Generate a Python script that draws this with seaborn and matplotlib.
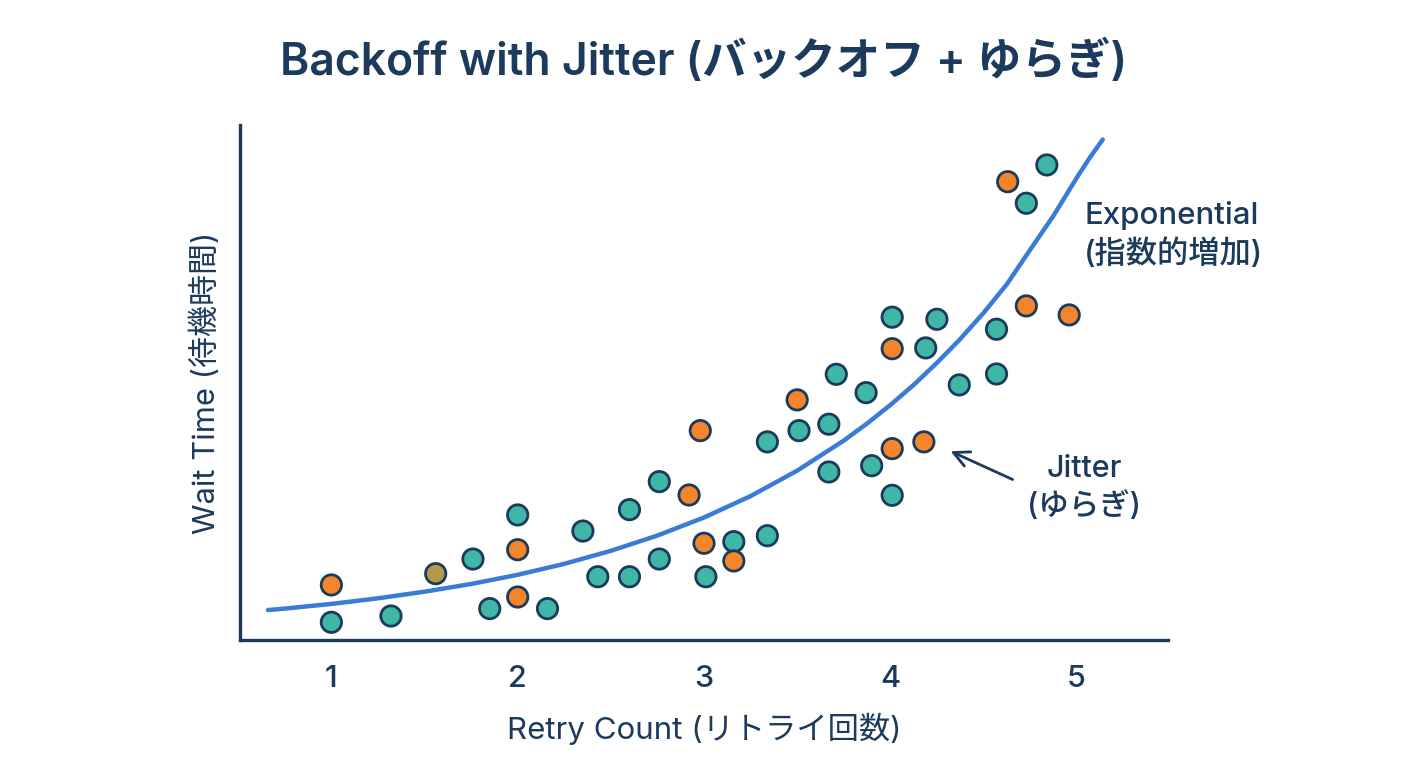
import numpy as np
import pandas as pd
import matplotlib
matplotlib.use("Agg")
import matplotlib.pyplot as plt
import seaborn as sns

# retry count / wait time (arbitrary units)
teal_x = [1.00, 1.32, 1.76, 1.85, 2.00, 2.16, 2.35, 2.43, 2.60, 2.60, 2.76, 2.76,
          3.01, 3.16, 3.34, 3.34, 3.51, 3.67, 3.71, 3.67, 3.87, 3.90, 4.01, 4.01,
          4.19, 4.25, 4.37, 4.57, 4.57, 4.73, 4.84]
teal_y = [1.10, 1.49, 5.03, 1.95, 7.77, 1.95, 6.77, 3.93, 3.93, 8.10, 5.03, 9.84,
          3.93, 6.11, 6.48, 12.31, 13.01, 13.41, 16.51, 10.44, 15.37, 10.83, 20.06, 8.99,
          18.15, 19.93, 15.85, 19.31, 16.53, 27.14, 29.52]
orange_x = [1.00, 2.00, 2.00, 2.98, 2.92, 3.00, 3.16, 3.50, 4.01, 4.01, 4.18, 4.63, 4.73, 4.96]
orange_y = [3.42, 5.61, 2.67, 13.01, 9.01, 6.01, 4.91, 14.92, 18.10, 11.89, 12.31, 28.48, 20.76, 20.20]
olive_x = [1.56]
olive_y = [4.12]

# exponential trend line (denser where it bends)
curve_x = [0.66, 0.75, 1.00, 1.25, 1.50, 1.75, 2.00, 2.25, 2.50, 2.75,
           3.00, 3.25, 3.50, 3.75, 3.875, 4.00, 4.125, 4.25, 4.375, 4.50,
           4.625, 4.75, 4.875, 5.00, 5.07, 5.14]
curve_y = [1.86, 1.95, 2.24, 2.59, 3.00, 3.48, 4.05, 4.73, 5.54, 6.49,
           7.61, 8.94, 10.52, 12.39, 13.45, 14.60, 15.85, 17.22, 18.70, 20.32,
           22.10, 24.24, 26.35, 28.71, 29.96, 31.10]

xticks = [1, 2, 3, 4, 5]

navy = "#1b3a5c"
palette = {"teal": "#3fb6a6", "orange": "#f5852b", "olive": "#b39a46"}

pts = pd.DataFrame({
    "x": teal_x + orange_x + olive_x,
    "y": teal_y + orange_y + olive_y,
    "kind": ["teal"] * len(teal_x) + ["orange"] * len(orange_x) + ["olive"] * len(olive_x),
})
curve = pd.DataFrame({"x": curve_x, "y": curve_y})

sns.set_style("white")
plt.rcParams["font.family"] = ["Inter", "Noto Sans CJK JP", "DejaVu Sans"]
plt.rcParams["font.weight"] = "medium"

fig = plt.figure(figsize=(14.08, 7.68), dpi=100)
ax = fig.add_axes([0.1705, 0.1667, 0.659, 0.6705])

sns.lineplot(data=curve, x="x", y="y", ax=ax, color="#3a7bd5", linewidth=3.2,
             solid_capstyle="round", solid_joinstyle="round", zorder=2)
sns.scatterplot(data=pts, x="x", y="y", hue="kind", palette=palette, ax=ax,
                s=215, edgecolor=navy, linewidth=2.0, legend=False, zorder=3)

ax.set_xlim(0.51, 5.49)
ax.set_ylim(0, 32)
ax.set_xticks(xticks)
ax.set_xticklabels([str(t) for t in xticks])
ax.set_yticks([])
ax.tick_params(axis="x", direction="out", length=8, width=2, color=navy,
               labelsize=22, labelcolor=navy, pad=10)

for side in ["top", "right"]:
    ax.spines[side].set_visible(False)
for side in ["left", "bottom"]:
    ax.spines[side].set_color(navy)
    ax.spines[side].set_linewidth(2.4)

ax.set_xlabel("Retry Count (リトライ回数)", fontsize=22.5, color=navy, labelpad=14)
ax.set_ylabel("Wait Time (待機時間)", fontsize=22.3, color=navy, labelpad=14)
fig.text(0.5, 0.919, "Backoff with Jitter (バックオフ + ゆらぎ)", fontsize=32,
         fontweight="semibold", color=navy, ha="center", va="center")

ax.text(5.04, 25.15, "Exponential\n(指数的増加)", fontsize=22.5, color=navy,
        ha="left", va="center", linespacing=1.35)
ax.text(5.04, 9.45, "Jitter\n(ゆらぎ)", fontsize=22, color=navy,
        ha="center", va="center", linespacing=1.35)
ax.annotate("", xy=(4.31, 11.8), xytext=(4.67, 9.9),
            arrowprops=dict(arrowstyle="->", color=navy, lw=2, mutation_scale=28))

fig.savefig("out.png", dpi=100, facecolor="white")
